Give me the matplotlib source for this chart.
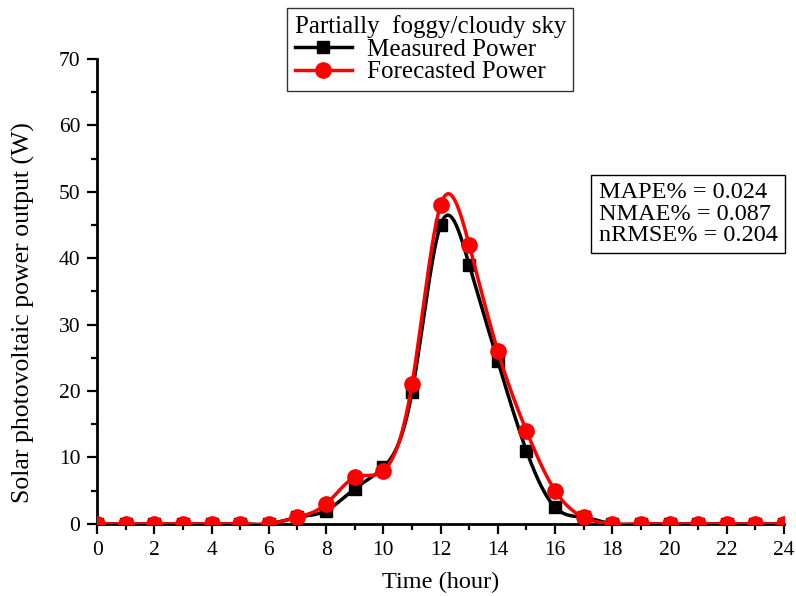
import numpy as np
import matplotlib
matplotlib.use('Agg')
from matplotlib import pyplot as plt
from matplotlib.ticker import MultipleLocator

plt.rcParams['font.family'] = ['Liberation Serif', 'DejaVu Serif']

#Hourly values
hours = np.arange(0, 25)
measured = [0, 0, 0, 0, 0, 0, 0, 1.0, 2.0, 5.3, 8.5, 19.8, 45.0, 39.0, 24.5,
            11.0, 2.5, 1.0, 0, 0, 0, 0, 0, 0, 0]
forecast = [0, 0, 0, 0, 0, 0, 0, 1.0, 3.0, 7.0, 8.0, 21.0, 48.0, 42.0, 26.0,
            14.0, 5.0, 1.0, 0, 0, 0, 0, 0, 0, 0]
metrics = ['MAPE% = 0.024', 'NMAE% = 0.087', 'nRMSE% = 0.204']

def spline(x, y, xs):
    #natural cubic spline, no scipy here
    x = np.asarray(x, dtype=float)
    y = np.asarray(y, dtype=float)
    n = len(x)
    h = np.diff(x)
    A = np.zeros((n, n))
    r = np.zeros(n)
    A[0, 0] = 1
    A[-1, -1] = 1
    for i in range(1, n-1):
        A[i, i-1] = h[i-1]
        A[i, i] = 2*(h[i-1] + h[i])
        A[i, i+1] = h[i]
        r[i] = 3*((y[i+1]-y[i])/h[i] - (y[i]-y[i-1])/h[i-1])
    c = np.linalg.solve(A, r)
    b = (y[1:]-y[:-1])/h - h*(2*c[:-1] + c[1:])/3
    d = (c[1:] - c[:-1])/(3*h)
    idx = np.clip(np.searchsorted(x, xs) - 1, 0, n-2)
    t = xs - x[idx]
    return y[idx] + b[idx]*t + c[idx]*t**2 + d[idx]*t**3

xs = np.linspace(0, 24, 1200)

fig = plt.figure(figsize=(7.96, 5.96), dpi=100)
ax = fig.add_axes([0.122, 0.121, 0.863, 0.78])

ax.plot(xs, spline(hours, measured, xs), color='black', lw=2.5, zorder=2)
ax.plot(hours, measured, 's', color='black', ms=9, zorder=3)
ax.plot(xs, spline(hours, forecast, xs), color='red', lw=2.5, zorder=4)
ax.plot(hours, forecast, 'o', color='red', ms=11, zorder=5)

#legend handles
h1, = ax.plot([], [], '-s', color='black', lw=2.5, ms=9, label='Measured Power')
h2, = ax.plot([], [], '-o', color='red', lw=2.5, ms=11, label='Forecasted Power')
leg = ax.legend(handles=[h1, h2], title='Partially  foggy/cloudy sky',
                loc='upper center', bbox_to_anchor=(0.485, 1.11),
                fontsize=18, title_fontsize=18, frameon=True, fancybox=False,
                edgecolor='black', handlelength=2.3, borderpad=0.3,
                labelspacing=0.0, handletextpad=0.6, borderaxespad=0)
leg.get_frame().set_linewidth(1.0)
leg._legend_box.align = 'left'

ax.text(0.73, 0.735, '\n'.join(metrics), transform=ax.transAxes, fontsize=17.5,
        va='top', ha='left', linespacing=1.02,
        bbox=dict(boxstyle='square,pad=0.3', fc='white', ec='black', lw=1.0))

ax.set_xlim(0, 24)
ax.set_ylim(0, 70)
ax.xaxis.set_major_locator(MultipleLocator(2))
ax.xaxis.set_minor_locator(MultipleLocator(1))
ax.yaxis.set_major_locator(MultipleLocator(10))
ax.yaxis.set_minor_locator(MultipleLocator(5))
ax.tick_params(which='both', direction='out', width=1.6, labelsize=15.5)
ax.tick_params(which='major', length=7, pad=5)
ax.tick_params(which='minor', length=4)
for s in ['top', 'right']:
    ax.spines[s].set_visible(False)
for s in ['left', 'bottom']:
    ax.spines[s].set_linewidth(2.0)

ax.set_xlabel('Time (hour)', fontsize=17.5, labelpad=9)
ax.set_ylabel('Solar photovoltaic power output (W)', fontsize=18.5)
ax.yaxis.set_label_coords(-0.09, 0.455)

fig.savefig('out.png', dpi=100)
